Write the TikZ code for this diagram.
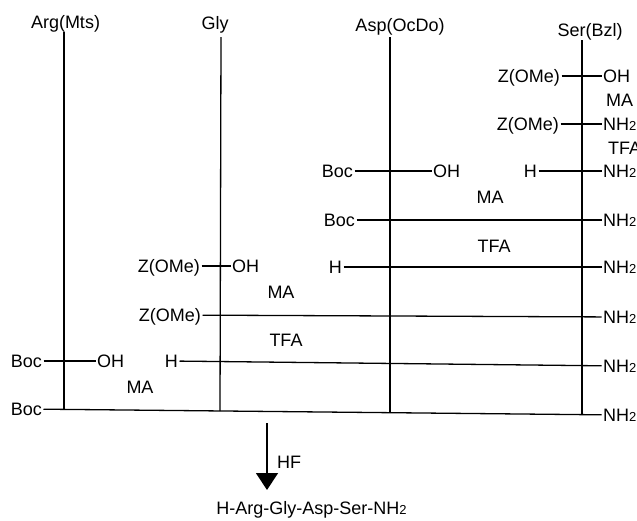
\documentclass[tikz,border=0pt]{standalone}
\usepackage{fontspec}
\setmainfont{Liberation Sans}
\usetikzlibrary{arrows.meta}
\newcommand\sbtwo{{\fontsize{13pt}{13pt}\selectfont 2}}
\begin{document}
\begin{tikzpicture}[x=1pt,y=-1pt,
  lbl/.style={font=\fontsize{18pt}{20pt}\selectfont, inner sep=1.5pt, text height=12.9pt, text depth=0pt},
  ln/.style={line width=1.3pt},
  ]
\useasboundingbox (0,0) rectangle (637,520);
% titles
\node[lbl] (targ) at (65.5,21.7) {Arg(Mts)};
\node[lbl] (tgly) at (215,23) {Gly};
\node[lbl] (tasp) at (400,25.3) {Asp(OcDo)};
\node[lbl] (tser) at (590,30.3) {Ser(Bzl)};
% vertical lines
\coordinate (argtop) at (64,32);  \coordinate (argbot) at (64,409.2);
\coordinate (glytop) at (221,37); \coordinate (glybot) at (220,411);
\coordinate (asptop) at (390,37); \coordinate (aspbot) at (390,412.7);
\coordinate (sertop) at (582,40); \coordinate (serbot) at (582,414.8);
\draw[ln] (argtop) -- (argbot);
\draw[ln] (glytop) -- (glybot);
\draw[ln] (asptop) -- (aspbot);
\draw[ln] (sertop) -- (serbot);
% row 1
\node[lbl,anchor=east] (zs1) at (561.5,76) {Z(OMe)};
\node[lbl,anchor=west] (oh1) at (601.5,76) {OH};
\draw[ln] (zs1) -- (oh1);
\node[lbl,anchor=west] (ma1) at (604.5,100) {MA};
% row 2
\node[lbl,anchor=east] (zs2) at (560.5,124) {Z(OMe)};
\node[lbl,anchor=west] (nh1) at (601.5,124) {NH\sbtwo};
\draw[ln] (zs2) -- (nh1);
\node[lbl,anchor=west] (tfa1) at (606.5,148) {TFA};
% row 3
\node[lbl,anchor=east] (boc1) at (354.5,171) {Boc};
\node[lbl,anchor=west] (oh2) at (431.5,171) {OH};
\draw[ln] (boc1) -- (oh2);
\node[lbl,anchor=east] (hs) at (538.5,171) {H};
\node[lbl,anchor=west] (nh2) at (601.5,171) {NH\sbtwo};
\draw[ln] (hs) -- (nh2);
\node[lbl] (ma2) at (490,197) {MA};
% row 4
\node[lbl,anchor=east] (boc2) at (356.5,220) {Boc};
\node[lbl,anchor=west] (nh3) at (601.5,220) {NH\sbtwo};
\draw[ln] (boc2) -- (nh3);
\node[lbl] (tfa2) at (494,246) {TFA};
% row 5
\node[lbl,anchor=east] (ha) at (343.5,267) {H};
\node[lbl,anchor=west] (nh4) at (601.5,267) {NH\sbtwo};
\draw[ln] (ha) -- (nh4);
\node[lbl,anchor=east] (zg1) at (201.5,266) {Z(OMe)};
\node[lbl,anchor=west] (ohg) at (230.5,266) {OH};
\draw[ln] (zg1) -- (ohg);
\node[lbl] (ma3) at (281,292) {MA};
% row 6
\node[lbl,anchor=east] (zg2) at (202.5,315) {Z(OMe)};
\node[lbl,anchor=west] (nh5) at (601.5,317) {NH\sbtwo};
\draw[ln] (zg2) -- (nh5);
\node[lbl] (tfa3) at (286,340) {TFA};
% row 7
\node[lbl,anchor=east] (boca) at (43.5,361) {Boc};
\node[lbl,anchor=west] (oha) at (95.5,361) {OH};
\draw[ln] (boca) -- (oha);
\node[lbl,anchor=east] (hg) at (179.5,361) {H};
\node[lbl,anchor=west] (nh6) at (601.5,366) {NH\sbtwo};
\draw[ln] (hg) -- (nh6);
\node[lbl] (ma4) at (140,387) {MA};
% row 8
\node[lbl,anchor=east] (bocb) at (43.5,409) {Boc};
\node[lbl,anchor=west] (nh7) at (601.5,415) {NH\sbtwo};
\draw[ln] (bocb) -- (nh7);
% final step
\coordinate (arrtop) at (267,423);
\coordinate (arrtip) at (267,490);
\draw[ln,-{Triangle[width=22pt,length=17pt]}] (arrtop) -- (arrtip);
\node[lbl,anchor=west] (hf) at (275.5,462) {HF};
\node[lbl] (prod) at (311.5,508) {H-Arg-Gly-Asp-Ser-NH\sbtwo};
\end{tikzpicture}
\end{document}
